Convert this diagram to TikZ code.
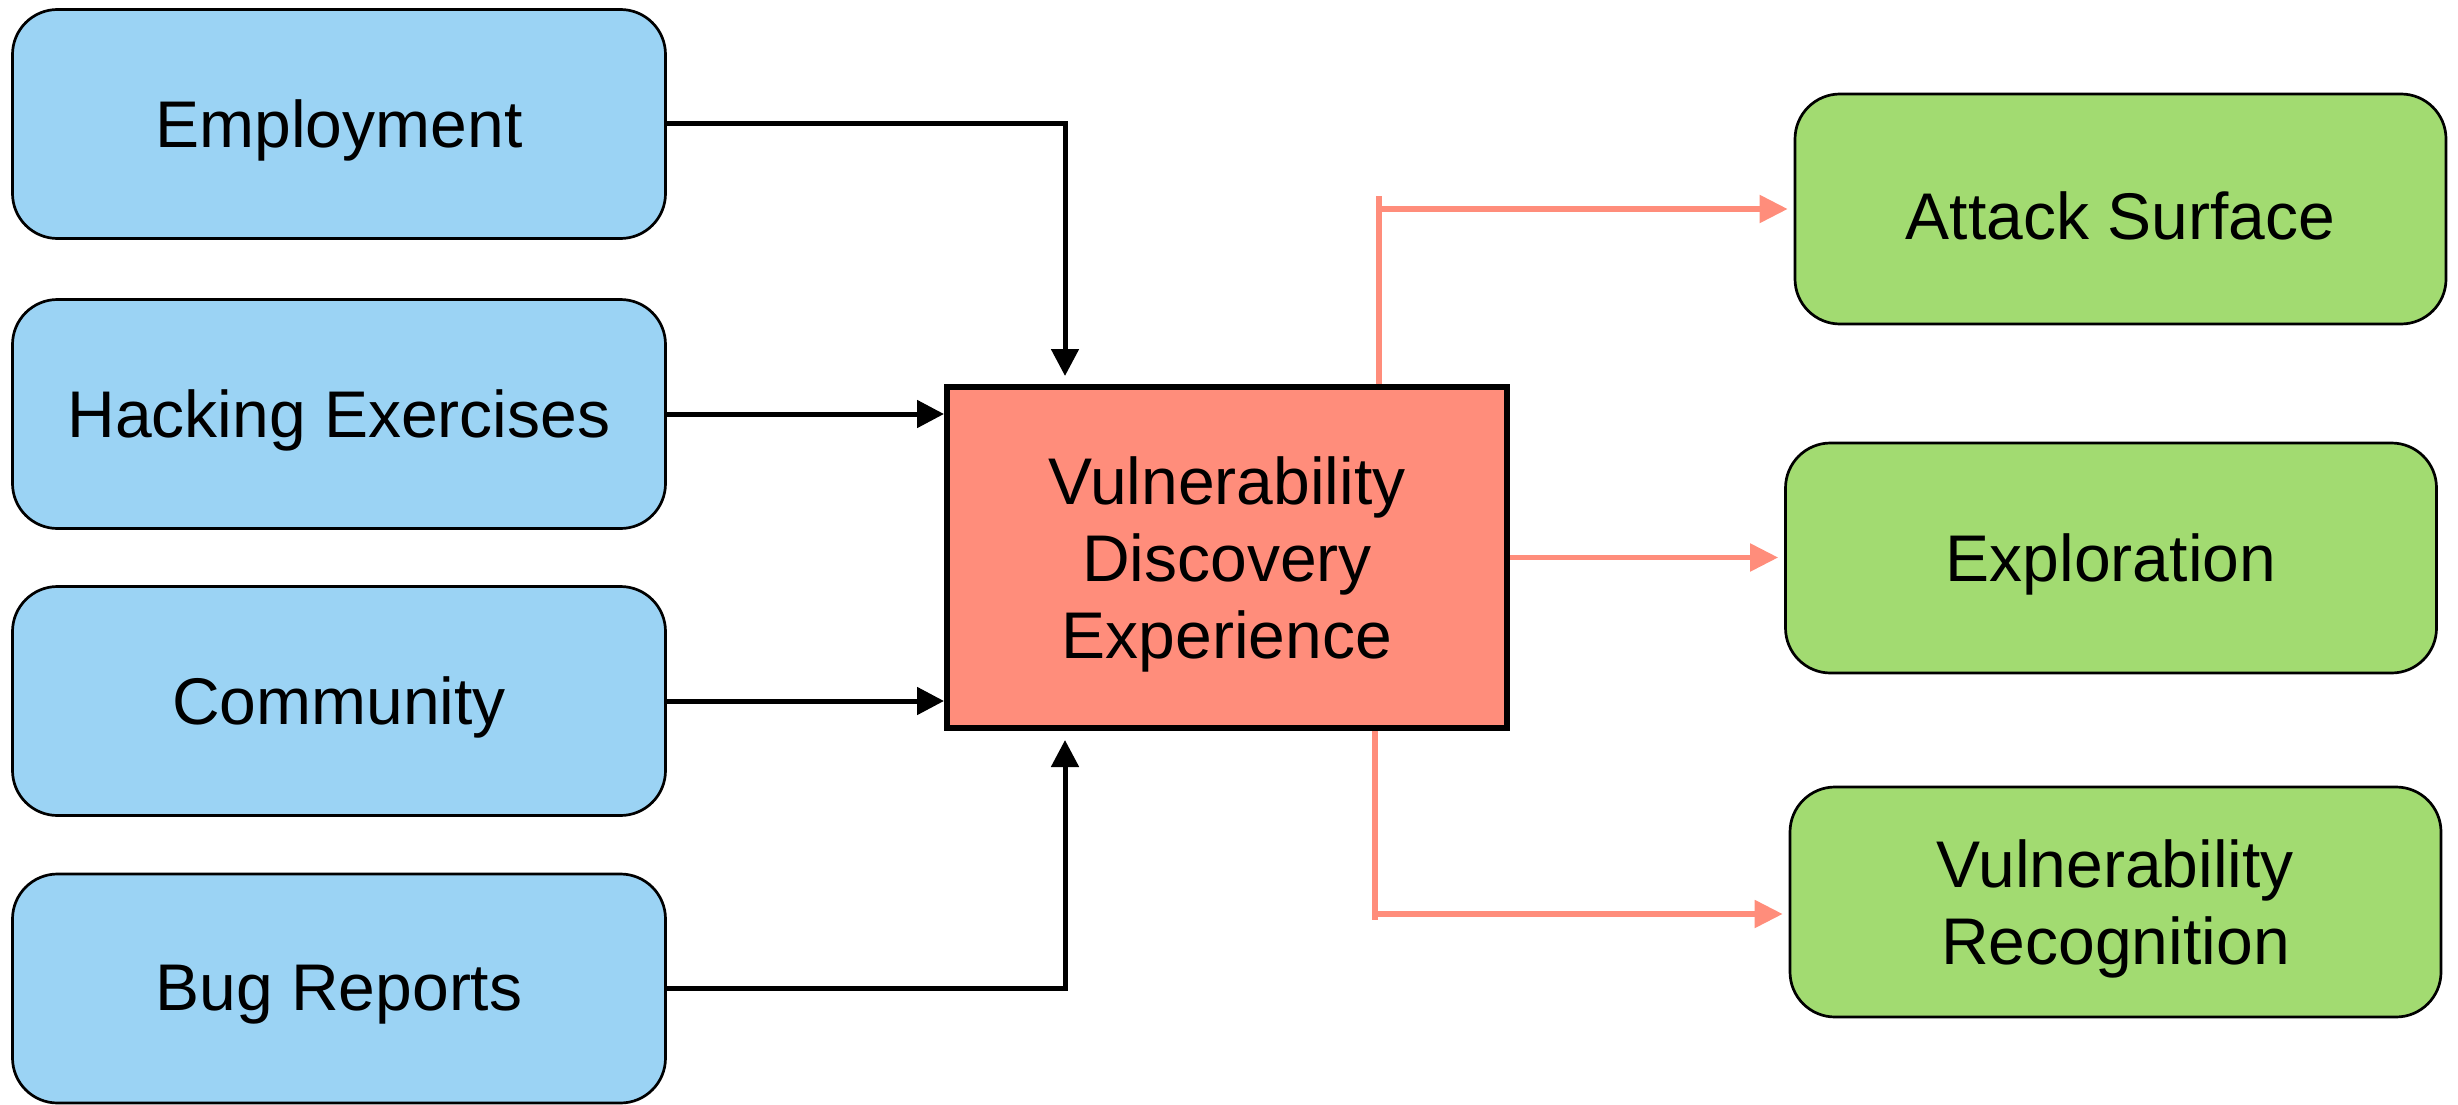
\documentclass[tikz,border=0pt]{standalone}
\usepackage{fontspec}
\setmainfont{Liberation Sans}
\usetikzlibrary{arrows.meta,positioning}

\definecolor{srcblue}{RGB}{155,211,244}
\definecolor{hubred}{RGB}{255,141,123}
\definecolor{outgreen}{RGB}{162,219,113}

% set a line a little lower while keeping its box metrics, so capitals sit centred
\newcommand\lowline[1]{\raisebox{-6.5pt}[\height][\depth]{#1}}

\tikzset{
  boxtext/.style={font=\fontsize{66}{77}\selectfont, align=center, text=black},
  source/.style={boxtext, draw=black, line width=2.7pt, fill=srcblue,
    rounded corners=45pt, minimum width=653pt, minimum height=229pt, inner sep=0pt},
  outcome/.style={boxtext, draw=black, line width=2.7pt, fill=outgreen,
    rounded corners=45pt, minimum width=651pt, minimum height=230pt, inner sep=0pt},
  hub/.style={boxtext, draw=black, line width=6pt, fill=hubred,
    minimum width=560pt, minimum height=341pt, inner sep=0pt},
  feed/.style={draw=black, line width=5pt,
    -{Triangle[length=27pt,width=27pt]}},
  lead/.style={draw=hubred, line width=5.2pt,
    -{Triangle[length=28pt,width=27pt]}, shorten >=6pt},
  leadline/.style={draw=hubred, line width=5.2pt},
}

\begin{document}
\begin{tikzpicture}[x=1pt, y=-1pt]
\useasboundingbox (0,0) rectangle (2458,1105);

% inputs
\node[source] (emp)  at (339,124)   {\lowline{Employment}};
\node[source] (hack) at (339,414)   {\lowline{Hacking Exercises}};
\node[source] (comm) at (339,701)   {\lowline{Community}};
\node[source] (bug)  at (339,988.5) {\lowline{Bug Reports}};

% central box
\node[hub] (vde) at (1227,557.5)
  {\lowline{Vulnerability}\\\lowline{Discovery}\\\lowline{Experience}};

% outcomes
\node[outcome] (atk)  at (2120.5,209) {\lowline{Attack Surface}};
\node[outcome] (expl) at (2111,558)   {\lowline{Exploration}};
\node[outcome] (vrec) at (2115.5,902) {\lowline{Vulnerability}\\\lowline{Recognition}};

% incoming connectors
\draw[feed, shorten >=8pt] (emp.east) -| ([xshift=121pt]vde.north west);
\draw[feed] (hack.east) -- (hack.east -| vde.west);
\draw[feed] (comm.east) -- (comm.east -| vde.west);
\draw[feed, shorten >=9pt] (bug.east) -| ([xshift=121pt]vde.south west);

% outgoing connectors
\coordinate (ta) at (1379,196);
\draw[leadline] ([xshift=435pt]vde.north west) -- (ta);
\draw[lead] ([xshift=2pt]ta |- atk.west) -- (atk.west);

\draw[lead] (vde.east) -- (vde.east -| expl.west);

\coordinate (tb) at (1375,920);
\coordinate (vin) at ([yshift=-12pt]vrec.west);
\draw[leadline] ([xshift=431pt]vde.south west) -- (tb);
\draw[lead] ([xshift=2pt]tb |- vin) -- (vin);
\end{tikzpicture}
\end{document}
